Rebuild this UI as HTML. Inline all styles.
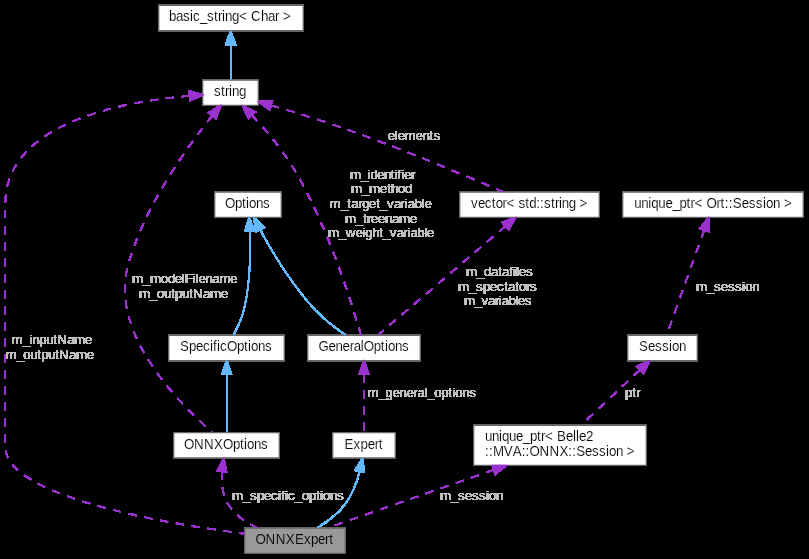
<!DOCTYPE html>
<html><head><meta charset="utf-8"><title>ONNXExpert</title>
<style>
html,body{margin:0;padding:0;background:#000;}
svg{display:block;}
text{font-family:"Liberation Sans",sans-serif;font-size:13.33px;text-anchor:start;fill:#000;white-space:pre;}
text.l{fill:#bebebe;}
text.n{stroke:#fff;stroke-width:0.15px;paint-order:fill stroke;}
text.g{stroke:#999;stroke-width:0.15px;paint-order:fill stroke;}
path,polygon{stroke-width:1.333;}
</style></head><body>
<svg width="809" height="559" viewBox="0 0 809 559">
<defs><filter id="a" x="0" y="0" width="809" height="559" filterUnits="userSpaceOnUse" color-interpolation-filters="sRGB"><feComponentTransfer><feFuncA type="linear" slope="255" intercept="0"/></feComponentTransfer></filter>
<filter id="b" x="0" y="0" width="809" height="559" filterUnits="userSpaceOnUse" color-interpolation-filters="sRGB"><feComponentTransfer><feFuncA type="linear" slope="60" intercept="-1.5"/></feComponentTransfer></filter></defs>
<g filter="url(#a)">
<g><polygon fill="#999999" stroke="#666666" points="345.30,528.00 244.70,528.00 244.70,553.33 345.30,553.33 345.30,528.00"/><text class="g" transform="matrix(1 0 0 1.060 0 -32.64)" x="255.5 265.6 275.7 285.8 294.9 303.9 311.0 318.1 325.1 329.2" y="544.00">ONNXExpert</text></g>
<g><polygon fill="white" stroke="#666666" points="395.30,432.67 332.70,432.67 332.70,458.00 395.30,458.00 395.30,432.67"/><text class="n" transform="matrix(1 0 0 1.060 0 -26.92)" x="344.5 353.6 360.6 367.7 374.7 378.8" y="448.67">Expert</text></g>
<g><path fill="none" stroke="#63b8ff" d="M 359.61,471.53 C 356.83,482.27 352.36,494.52 345.33,504.00 338.05,513.81 327.20,521.89 317.41,527.84"/><polygon fill="#63b8ff" stroke="#63b8ff" points="355.11,470.28 362.47,458.21 364.24,472.23 355.11,470.28"/></g>
<g><polygon fill="white" stroke="#666666" points="420.30,335.33 307.70,335.33 307.70,360.67 420.30,360.67 420.30,335.33"/><text class="n" transform="matrix(1 0 0 1.060 0 -21.08)" x="318.5 328.6 335.6 342.6 349.7 353.7 360.7 363.8 373.8 380.8 384.9 387.9 394.9 402.0" y="351.33">GeneralOptions</text></g>
<g><path fill="none" stroke="#9a32cd" stroke-dasharray="8,8" d="M 364.00,374.36 C 364.00,393.12 364.00,417.92 364.00,432.29"/><polygon fill="#9a32cd" stroke="#9a32cd" points="359.33,374.28 364.00,360.95 368.67,374.28 359.33,374.28"/></g>
<g><polygon fill="white" stroke="#666666" points="281.30,192.00 214.70,192.00 214.70,217.33 281.30,217.33 281.30,192.00"/><text class="n" transform="matrix(1 0 0 1.060 0 -12.48)" x="225.0 235.0 242.0 246.0 249.0 256.0 263.0" y="208.00">Options</text></g>
<g><path fill="none" stroke="#63b8ff" d="M 260.27,229.95 C 272.29,252.01 292.05,284.97 314.67,309.33 323.87,319.25 335.96,328.45 345.88,335.24"/><polygon fill="#63b8ff" stroke="#63b8ff" points="255.95,231.73 253.84,217.77 264.20,227.37 255.95,231.73"/></g>
<g><polygon fill="white" stroke="#666666" points="284.30,335.33 168.70,335.33 168.70,360.67 284.30,360.67 284.30,335.33"/><text class="n" transform="matrix(1 0 0 1.060 0 -21.08)" x="180.0 189.0 196.0 203.0 210.0 213.0 217.0 220.0 227.0 237.0 244.0 248.0 251.0 258.0 265.0" y="351.33">SpecificOptions</text></g>
<g><path fill="none" stroke="#63b8ff" d="M 249.76,231.15 C 250.60,252.31 250.31,283.21 244.00,309.33 241.79,318.51 237.25,328.15 233.37,335.33"/><polygon fill="#63b8ff" stroke="#63b8ff" points="245.09,231.24 249.03,217.67 254.41,230.73 245.09,231.24"/></g>
<g><polygon fill="white" stroke="#666666" points="258.30,80.00 202.70,80.00 202.70,105.33 258.30,105.33 258.30,80.00"/><text class="n" transform="matrix(1 0 0 1.060 0 -5.76)" x="214.0 221.0 225.0 229.0 232.0 239.0" y="96.00">string</text></g>
<g><path fill="none" stroke="#9a32cd" stroke-dasharray="8,8" d="M 189.68,95.88 C 124.71,101.32 5.33,122.32 5.33,203.33 5.33,203.33 5.33,203.33 5.33,446.67 5.33,496.37 162.20,523.12 244.93,533.77"/><polygon fill="#9a32cd" stroke="#9a32cd" points="189.40,91.23 203.04,94.92 190.07,100.53 189.40,91.23"/></g>
<g><path fill="none" stroke="#9a32cd" stroke-dasharray="8,8" d="M 251.93,115.25 C 265.15,129.32 281.75,148.67 293.33,168.00 328.47,226.67 352.65,305.95 360.89,335.20"/><polygon fill="#9a32cd" stroke="#9a32cd" points="248.55,118.45 242.64,105.61 255.25,111.97 248.55,118.45"/></g>
<g><polygon fill="white" stroke="#666666" points="599.30,192.00 459.70,192.00 459.70,217.33 599.30,217.33 599.30,192.00"/><text class="n" transform="matrix(1 0 0 1.060 0 -12.48)" x="471.0 477.9 484.8 491.7 495.7 502.6 506.5 514.4 518.4 525.3 529.2 536.2 540.1 544.1 551.0 554.9 558.9 561.8 568.7 575.7 579.6" y="208.00">vector&lt; std::string &gt;</text></g>
<g><path fill="none" stroke="#9a32cd" stroke-dasharray="8,8" d="M 271.45,105.39 C 293.78,111.92 321.95,120.56 346.69,129.33 403.10,149.33 467.73,176.57 502.98,191.80"/><polygon fill="#9a32cd" stroke="#9a32cd" points="269.76,109.75 258.38,101.61 272.28,100.77 269.76,109.75"/></g>
<g><polygon fill="white" stroke="#666666" points="279.30,432.67 173.70,432.67 173.70,458.00 279.30,458.00 279.30,432.67"/><text class="n" transform="matrix(1 0 0 1.060 0 -26.92)" x="184.0 194.0 204.0 214.0 223.0 233.0 240.0 244.0 247.0 254.0 261.0" y="448.67">ONNXOptions</text></g>
<g><path fill="none" stroke="#9a32cd" stroke-dasharray="8,8" d="M 212.19,115.80 C 187.35,146.69 144.40,206.07 128.00,265.33 109.01,333.97 180.67,404.97 212.33,432.31"/><polygon fill="#9a32cd" stroke="#9a32cd" points="208.65,112.75 220.73,105.41 215.87,118.68 208.65,112.75"/></g>
<g><polygon fill="white" stroke="#666666" points="303.30,5.33 158.70,5.33 158.70,30.67 303.30,30.67 303.30,5.33"/><text class="n" transform="matrix(1 0 0 1.060 0 -1.28)" x="169.0 176.0 183.0 190.0 193.0 200.0 207.0 214.0 218.0 222.0 225.0 232.0 239.0 247.0 251.0 261.0 268.0 275.0 279.0 283.0" y="21.33">basic_string&lt; Char &gt;</text></g>
<g><path fill="none" stroke="#63b8ff" d="M 230.67,44.93 C 230.67,56.79 230.67,70.29 230.67,79.67"/><polygon fill="#63b8ff" stroke="#63b8ff" points="226.00,44.56 230.67,31.23 235.33,44.56 226.00,44.56"/></g>
<g><path fill="none" stroke="#9a32cd" stroke-dasharray="8,8" d="M 505.26,226.27 C 470.30,256.13 406.05,311.05 378.05,335.00"/><polygon fill="#9a32cd" stroke="#9a32cd" points="502.42,222.44 515.50,217.51 508.63,229.63 502.42,222.44"/></g>
<g><path fill="none" stroke="#9a32cd" stroke-dasharray="8,8" d="M 221.91,471.47 C 221.13,482.19 222.11,494.45 228.00,504.00 234.68,514.81 245.87,522.51 257.19,527.88"/><polygon fill="#9a32cd" stroke="#9a32cd" points="217.29,470.75 223.73,458.17 226.55,472.03 217.29,470.75"/></g>
<g><path fill="none" stroke="#63b8ff" d="M 226.67,374.36 C 226.67,393.12 226.67,417.92 226.67,432.29"/><polygon fill="#63b8ff" stroke="#63b8ff" points="222.00,374.28 226.67,360.95 231.33,374.28 222.00,374.28"/></g>
<g><polygon fill="white" stroke="#666666" points="646.30,425.33 473.70,425.33 473.70,465.33 646.30,465.33 646.30,425.33"/><text class="n" transform="matrix(1 0 0 1.060 0 -26.48)" x="485.0 492.0 499.0 502.0 509.0 516.0 523.0 530.0 537.0 541.0 545.0 553.0 557.0 566.0 573.0 576.0 579.0 586.0" y="441.33">unique_ptr&lt; Belle2</text><text class="n" transform="matrix(1 0 0 1.060 0 -27.36)" x="485.0 489.0 492.9 503.8 512.8 521.7 525.6 529.6 539.5 549.4 559.4 568.3 572.2 576.2 585.1 592.1 599.0 605.9 608.9 615.9 622.8 626.8" y="456.00">::MVA::ONNX::Session &gt;</text></g>
<g><path fill="none" stroke="#9a32cd" stroke-dasharray="8,8" d="M 493.65,469.85 C 440.74,488.36 368.86,513.49 327.55,527.91"/><polygon fill="#9a32cd" stroke="#9a32cd" points="492.28,465.39 506.37,465.41 495.33,474.20 492.28,465.39"/></g>
<g><polygon fill="white" stroke="#666666" points="697.30,335.33 627.70,335.33 627.70,360.67 697.30,360.67 697.30,335.33"/><text class="n" transform="matrix(1 0 0 1.060 0 -21.08)" x="639.0 648.0 655.0 662.0 669.0 672.0 679.0" y="351.33">Session</text></g>
<g><path fill="none" stroke="#9a32cd" stroke-dasharray="8,8" d="M 639.66,370.23 C 622.17,386.61 598.03,409.24 581.09,425.09"/><polygon fill="#9a32cd" stroke="#9a32cd" points="636.74,366.47 649.59,360.95 643.25,373.37 636.74,366.47"/></g>
<g><polygon fill="white" stroke="#666666" points="803.30,192.00 622.70,192.00 622.70,217.33 803.30,217.33 803.30,192.00"/><text class="n" transform="matrix(1 0 0 1.060 0 -12.48)" x="634.2 641.2 648.3 651.3 658.3 665.4 672.4 679.4 686.5 690.5 694.5 702.5 706.6 716.6 720.6 724.7 728.7 732.7 741.7 748.8 755.8 762.9 765.9 772.9 779.9 784.0" y="208.00">unique_ptr&lt; Ort::Session &gt;</text></g>
<g><path fill="none" stroke="#9a32cd" stroke-dasharray="8,8" d="M 704.18,230.28 C 693.23,260.84 674.86,312.09 666.65,335.00"/><polygon fill="#9a32cd" stroke="#9a32cd" points="699.88,228.40 708.76,217.51 708.66,231.64 699.88,228.40"/></g>
</g>
<g filter="url(#b)">
<text class="l" transform="matrix(1 0 0 0.970 0 11.92)" x="367.5 378.5 385.5 392.4 399.4 406.4 413.4 417.4 424.3 427.3 434.3 441.3 448.3 452.3 455.3 462.2 469.2" y="397.33">m_general_options</text>
<text class="l" transform="matrix(1 0 0 0.970 0 10.32)" x="11.5 22.4 29.4 32.4 39.3 46.3 53.2 57.2 67.2 74.1 85.0" y="344.00">m_inputName</text>
<text class="l" transform="matrix(1 0 0 0.970 0 10.76)" x="5.5 16.4 23.3 30.3 37.2 41.2 48.1 55.1 59.0 68.9 75.9 86.8" y="358.67">m_outputName</text>
<text class="l" transform="matrix(1 0 0 0.970 0 5.36)" x="350.0 360.7 367.5 370.4 377.2 384.0 390.7 394.6 397.5 401.4 404.3 411.1" y="178.67">m_identifier</text>
<text class="l" transform="matrix(1 0 0 0.970 0 5.80)" x="351.0 362.0 369.0 380.0 387.0 391.0 398.0 405.0" y="193.33">m_method</text>
<text class="l" transform="matrix(1 0 0 0.970 0 6.24)" x="329.5 340.4 347.3 351.3 358.2 362.2 369.1 376.0 380.0 386.9 393.9 400.8 404.8 407.7 414.7 421.6 424.6" y="208.00">m_target_variable</text>
<text class="l" transform="matrix(1 0 0 0.970 0 6.68)" x="345.0 356.0 363.0 367.0 371.0 378.0 385.0 392.0 399.0 410.0" y="222.67">m_treename</text>
<text class="l" transform="matrix(1 0 0 0.970 0 7.12)" x="328.0 338.8 345.7 355.5 362.4 365.3 372.2 379.0 383.0 389.8 396.7 403.6 407.5 410.4 417.3 424.2 427.1" y="237.33">m_weight_variable</text>
<text class="l" transform="matrix(1 0 0 0.970 0 4.20)" x="387.7 394.7 397.7 404.6 415.6 422.6 429.5 433.5" y="140.00">elements</text>
<text class="l" transform="matrix(1 0 0 0.970 0 8.50)" x="132.0 142.9 149.9 160.8 167.8 174.7 181.7 184.7 192.6 195.6 198.6 205.5 212.5 219.4 230.3" y="283.33">m_modelFilename</text>
<text class="l" transform="matrix(1 0 0 0.970 0 8.94)" x="139.0 150.0 157.0 164.0 171.0 175.0 182.0 189.0 193.0 203.0 210.0 221.0" y="298.00">m_outputName</text>
<text class="l" transform="matrix(1 0 0 0.970 0 8.28)" x="466.0 477.0 484.0 491.0 498.0 502.0 509.0 513.0 516.0 519.0 526.0" y="276.00">m_datafiles</text>
<text class="l" transform="matrix(1 0 0 0.970 0 8.72)" x="458.0 469.0 476.0 483.0 490.0 497.0 504.0 508.0 515.0 519.0 526.0 530.0" y="290.67">m_spectators</text>
<text class="l" transform="matrix(1 0 0 0.970 0 9.16)" x="464.0 474.6 481.4 488.1 494.9 498.8 501.7 508.4 515.2 518.1 524.8" y="305.33">m_variables</text>
<text class="l" transform="matrix(1 0 0 0.970 0 15.00)" x="232.0 243.0 250.0 257.0 264.0 271.0 278.0 281.0 285.0 288.0 295.0 302.0 309.0 316.0 320.0 323.0 330.0 337.0" y="500.00">m_specific_options</text>
<text class="l" transform="matrix(1 0 0 0.970 0 15.00)" x="440.0 451.0 458.0 465.0 472.0 479.0 486.0 489.0 496.0" y="500.00">m_session</text>
<text class="l" transform="matrix(1 0 0 0.970 0 11.92)" x="625.0 632.1 636.2" y="397.33">ptr</text>
<text class="l" transform="matrix(1 0 0 0.970 0 8.72)" x="696.0 707.0 714.1 721.1 728.1 735.1 742.1 745.2 752.2" y="290.67">m_session</text>
</g>
</svg>
</body></html>
